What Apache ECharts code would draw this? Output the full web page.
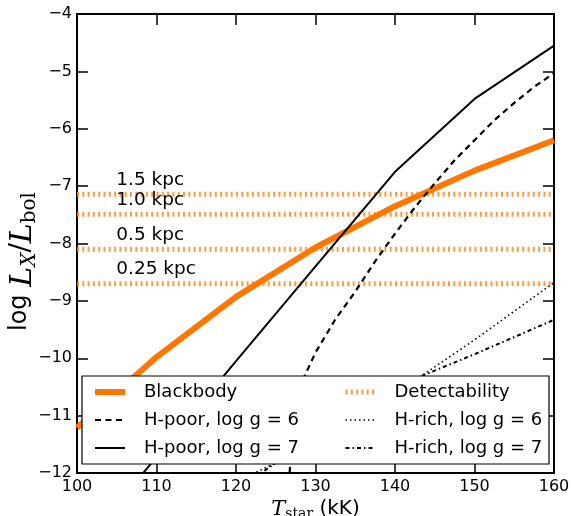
<!DOCTYPE html>
<html><head><meta charset="utf-8">
<script src="https://cdn.jsdelivr.net/npm/echarts@6/dist/echarts.min.js"></script>
<style>html,body{margin:0;padding:0;background:#fff}#c{width:572px;height:516px}</style>
</head><body><div id="c"></div>
<script>
// ---- data ----
const temps = [100, 110, 120, 130, 140, 150, 160];
const blackbody = [-11.21, -9.98, -8.93, -8.07, -7.35, -6.73, -6.2];
const hPoor7 = [-13.4, -11.72, -10.05, -8.4, -6.75, -5.48, -4.55];
const hPoor6Temps = [125, 127.5, 130, 132.5, 135, 137.5, 140, 142.5, 145, 147.5, 150, 152.5, 155, 157.5, 160];
const hPoor6 = [-15.1, -10.65, -9.9, -9.32, -8.84, -8.31, -7.83, -7.37, -6.95, -6.55, -6.2, -5.85, -5.55, -5.27, -5.03];
const hRichTemps = [120, 130, 140, 150, 160];
const hRich6 = [-12.15, -11.5, -10.62, -9.68, -8.68];
const hRich7 = [-12.3, -11.35, -10.5, -9.93, -9.33];
const detectLevels = [-7.14, -7.49, -8.10, -8.70];
const detectLabels = ['1.5 kpc', '1.0 kpc', '0.5 kpc', '0.25 kpc'];
const detectLabelT = 105;
const xRange = [100, 160];
const yRange = [-12, -4];

const ORANGE = '#ff7700';
const DET = '#ff8a1c';
const SANS = 'DejaVu Sans';
const SERIF = 'DejaVu Serif';

const pair = (xs, ys) => xs.map((x, i) => [x, ys[i]]);
const minus = v => (v < 0 ? '\u2212' + Math.abs(v) : String(v));

const series = [];
detectLevels.forEach(v => {
  series.push({
    name: 'Detectability', type: 'line', symbol: 'none', z: 1, silent: true,
    data: [[xRange[0], v], [xRange[1], v]],
    itemStyle: { color: DET },
    lineStyle: { color: DET, width: 5, type: [2, 3.3], opacity: 0.85 }
  });
});
series.push({
  name: 'labels', type: 'scatter', symbol: 'circle', symbolSize: 1, z: 3, silent: true,
  itemStyle: { color: 'transparent', opacity: 1 },
  data: detectLevels.map((v, i) => ({ value: [detectLabelT, v], name: detectLabels[i] })),
  label: { show: true, position: [0, 0], align: 'left', verticalAlign: 'middle', offset: [0, -13.5],
           formatter: p => p.name, color: '#000', opacity: 1, fontFamily: SANS, fontSize: 18.5 }
});
series.push({
  name: 'Blackbody', type: 'line', symbol: 'none', z: 4,
  data: pair(temps, blackbody),
  itemStyle: { color: ORANGE },
  lineStyle: { color: ORANGE, width: 6, type: 'solid' }
});
series.push({
  name: 'H-poor, log g = 6', type: 'line', symbol: 'none', z: 5,
  data: pair(hPoor6Temps, hPoor6),
  itemStyle: { color: '#000' },
  lineStyle: { color: '#000', width: 2.2, type: [6, 4.5] }
});
series.push({
  name: 'H-poor, log g = 7', type: 'line', symbol: 'none', z: 5,
  data: pair(temps, hPoor7),
  itemStyle: { color: '#000' },
  lineStyle: { color: '#000', width: 2, type: 'solid' }
});
series.push({
  name: 'H-rich, log g = 6', type: 'line', symbol: 'none', z: 5,
  data: pair(hRichTemps, hRich6),
  itemStyle: { color: '#000' },
  lineStyle: { color: '#000', width: 1.6, type: [1.5, 3] }
});
series.push({
  name: 'H-rich, log g = 7', type: 'line', symbol: 'none', z: 5,
  data: pair(hRichTemps, hRich7),
  itemStyle: { color: '#000' },
  lineStyle: { color: '#000', width: 2, type: [4, 3, 1.5, 3] }
});

const axisCommon = {
  axisLine: { show: true, onZero: false, lineStyle: { color: '#000', width: 2 } },
  axisTick: { show: true, inside: true, length: 11, lineStyle: { color: '#000', width: 1.5 } },
  splitLine: { show: false }
};

const legendCommon = {
  orient: 'vertical', top: 382, itemWidth: 30, itemHeight: 14, itemGap: 8, padding: 0,
  selectedMode: false, z: 21,
  itemStyle: { opacity: 0 },
  lineStyle: { width: 'inherit' },
  textStyle: { fontFamily: SANS, fontSize: 18, color: '#000', lineHeight: 20, padding: [0, 0, 0, 14] }
};

const option = {
  animation: false,
  backgroundColor: '#fff',
  grid: { left: 77, right: 18, top: 14, bottom: 43, containLabel: false, outerBoundsMode: 'none' },
  xAxis: [
    Object.assign({
      type: 'value', min: xRange[0], max: xRange[1], interval: 10, position: 'bottom',
      axisLabel: { show: true, margin: 6, color: '#000', fontFamily: SANS, fontSize: 16 },
      name: '{T|T}{s|star}{a| (kK)}', nameLocation: 'middle', nameGap: 26, nameMoveOverlap: false,
      nameTextStyle: { rich: {
        T: { fontFamily: SERIF, fontStyle: 'italic', fontSize: 21, lineHeight: 21, verticalAlign: 'top', color: '#000' },
        s: { fontFamily: SERIF, fontSize: 14, lineHeight: 14, padding: [10, 0, 0, 0], color: '#000' },
        a: { fontFamily: SANS, fontSize: 20, lineHeight: 21, verticalAlign: 'top', color: '#000' }
      } }
    }, axisCommon),
    Object.assign({
      type: 'value', min: xRange[0], max: xRange[1], interval: 10, position: 'top',
      axisLabel: { show: false }
    }, axisCommon)
  ],
  yAxis: [
    Object.assign({
      type: 'value', min: yRange[0], max: yRange[1], interval: 1, position: 'left',
      axisLabel: { show: true, margin: 5, color: '#000', fontFamily: SANS, fontSize: 16, formatter: minus },
      name: '{a|log }{L|L}{s|X}{d|/}{L|L}{b|bol}', nameLocation: 'middle', nameGap: 39, nameMoveOverlap: false,
      nameTextStyle: { padding: [0, 36, 0, 0], rich: {
        a: { fontFamily: SANS, fontSize: 24, lineHeight: 30, verticalAlign: 'top', color: '#000' },
        L: { fontFamily: SERIF, fontStyle: 'italic', fontSize: 30, lineHeight: 30, verticalAlign: 'top', color: '#000' },
        d: { fontFamily: SERIF, fontSize: 28, lineHeight: 30, verticalAlign: 'top', color: '#000' },
        s: { fontFamily: SERIF, fontStyle: 'italic', fontSize: 20, lineHeight: 20, padding: [13, 0, 0, 0], color: '#000' },
        b: { fontFamily: SERIF, fontSize: 20, lineHeight: 20, padding: [13, 0, 0, 0], color: '#000' }
      } }
    }, axisCommon),
    Object.assign({
      type: 'value', min: yRange[0], max: yRange[1], interval: 1, position: 'right',
      axisLabel: { show: false }
    }, axisCommon)
  ],
  legend: [
    Object.assign({ left: 92, data: ['Blackbody', 'H-poor, log g = 6', 'H-poor, log g = 7'] }, legendCommon),
    Object.assign({ left: 343, data: ['Detectability', 'H-rich, log g = 6', 'H-rich, log g = 7'] }, legendCommon)
  ],
  graphic: [{
    type: 'rect', z: 20, silent: true,
    shape: { x: 82, y: 376, width: 467, height: 88 },
    style: { fill: '#fff', stroke: '#000', lineWidth: 1.2 }
  }],
  series: series
};

const chart = echarts.init(document.getElementById('c'), null, { renderer: 'canvas' });
chart.setOption(option);
</script>
</body></html>
